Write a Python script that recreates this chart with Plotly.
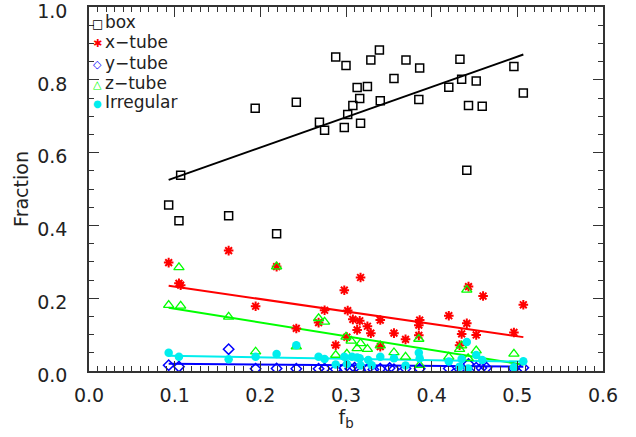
import plotly.graph_objects as go
import numpy as np

# ---------------- data ----------------
box_x = [0.093, 0.105, 0.107, 0.163, 0.194, 0.219, 0.242, 0.269, 0.275, 0.288, 0.298, 0.300,
         0.302, 0.308, 0.313, 0.316, 0.317, 0.325, 0.329, 0.339, 0.340, 0.356, 0.370, 0.385,
         0.386, 0.420, 0.433, 0.435, 0.441, 0.443, 0.452, 0.459, 0.496, 0.507]
box_y = [0.456, 0.413, 0.538, 0.427, 0.722, 0.377, 0.739, 0.684, 0.662, 0.863, 0.669, 0.840,
         0.705, 0.730, 0.779, 0.749, 0.681, 0.782, 0.855, 0.882, 0.743, 0.804, 0.855, 0.746,
         0.833, 0.780, 0.857, 0.802, 0.552, 0.730, 0.797, 0.728, 0.837, 0.764]

xt_x = [0.093, 0.105, 0.107, 0.163, 0.1945, 0.219, 0.242, 0.268, 0.275, 0.288, 0.298, 0.301,
        0.302, 0.308, 0.313, 0.316, 0.317, 0.325, 0.329, 0.340, 0.340, 0.356, 0.3695, 0.385,
        0.386, 0.385, 0.420, 0.4326, 0.435, 0.441, 0.443, 0.452, 0.460, 0.496, 0.507]
xt_y = [0.298, 0.241, 0.236, 0.331, 0.178, 0.287, 0.117, 0.133, 0.167, 0.071, 0.222, 0.093,
        0.166, 0.142, 0.113, 0.138, 0.257, 0.123, 0.104, 0.140, 0.067, 0.104, 0.087, 0.098,
        0.140, 0.126, 0.152, 0.071, 0.102, 0.131, 0.232, 0.099, 0.206, 0.106, 0.182]

yt_x = [0.093, 0.105, 0.163, 0.1945, 0.219, 0.242, 0.268, 0.275, 0.288, 0.298, 0.305, 0.310,
        0.316, 0.326, 0.332, 0.340, 0.351, 0.356, 0.3695, 0.386, 0.420, 0.4326, 0.443, 0.452,
        0.458, 0.464, 0.496, 0.507]
yt_y = [0.016, 0.012, 0.060, 0.006, 0.007, 0.006, 0.006, 0.007, 0.005, 0.008, 0.006, 0.009,
        0.005, 0.007, 0.004, 0.006, 0.008, 0.005, 0.007, 0.006, 0.007, 0.005, 0.019, 0.009,
        0.008, 0.009, 0.006, 0.009]

zt_x = [0.093, 0.105, 0.107, 0.163, 0.1945, 0.219, 0.242, 0.268, 0.275, 0.288, 0.300, 0.301,
        0.306, 0.313, 0.317, 0.325, 0.340, 0.356, 0.3695, 0.385, 0.386, 0.420, 0.4326, 0.435,
        0.441, 0.4426, 0.452, 0.496]
zt_y = [0.181, 0.285, 0.179, 0.149, 0.053, 0.287, 0.067, 0.145, 0.135, 0.044, 0.094, 0.047,
        0.083, 0.062, 0.076, 0.060, 0.070, 0.051, 0.039, 0.088, 0.016, 0.039, 0.060, 0.070,
        0.223, 0.035, 0.056, 0.047]

irr_x = [0.093, 0.105, 0.163, 0.1945, 0.219, 0.242, 0.268, 0.275, 0.288, 0.298, 0.301, 0.307,
         0.313, 0.316, 0.317, 0.326, 0.330, 0.340, 0.356, 0.3695, 0.385, 0.386, 0.420, 0.4326,
         0.435, 0.441, 0.4426, 0.452, 0.459, 0.496, 0.507]
irr_y = [0.050, 0.039, 0.032, 0.039, 0.047, 0.071, 0.039, 0.033, 0.018, 0.039, 0.019, 0.039,
         0.037, 0.035, 0.015, 0.030, 0.016, 0.039, 0.035, 0.015, 0.050, 0.035, 0.026, 0.012,
         0.033, 0.080, 0.007, 0.044, 0.030, 0.010, 0.027]

# linear fits (intercept, slope)
names = ["box", "x\u2212tube", "y\u2212tube", "z\u2212tube", "Irregular"]
fit_intercept = [0.448, 0.266, 0.022, 0.209, 0.0456]
fit_slope = [0.832, -0.341, -0.020, -0.378, -0.039]

xs = [box_x, xt_x, yt_x, zt_x, irr_x]
ys = [box_y, xt_y, yt_y, zt_y, irr_y]

# ---------------- styles ----------------
colors = ["#000000", "#FF0000", "#0000FF", "#00FF00", "#00EEEE"]
symbols = ["square-open", "asterisk-open", "diamond-open", "triangle-up-open", "circle"]
key_glyphs = ["\u25A1", "\u2731", "\u25C7", "\u25B3", "\u25CF"]
key_sizes = [12, 11, 11, 11, 10]
sizes = [8, 8, 8, 9, 8.5]
mlw = [1.5, 2.0, 1.5, 1.3, 0]

fig = go.Figure()
for i in range(5):
    xmin, xmax = min(box_x), max(box_x)
    lx = np.array([xmin, xmax])
    fig.add_trace(go.Scatter(
        x=lx, y=fit_intercept[i] + fit_slope[i] * lx, mode="lines",
        line=dict(color=colors[i], width=2), showlegend=False, hoverinfo="skip"))

for i in range(5):
    fig.add_trace(go.Scatter(
        x=xs[i], y=ys[i], mode="markers", name=names[i], showlegend=False,
        marker=dict(symbol=symbols[i], size=sizes[i], color=colors[i],
                    line=dict(color=colors[i], width=mlw[i]))))

# legend (IDL style: tight rows in the upper-left corner)
PL, PW, PT, PH = 89, 514, 7, 364
def px2paper(px, py):
    return (px - PL) / PW, 1 - (py - PT) / PH

row0, row_gap = 22.5, 20.0
for i in range(5):
    ry = row0 + i * row_gap
    kx, ky = px2paper(97, ry + 1.5)
    fig.add_annotation(x=kx, y=ky, xref="paper", yref="paper", text=key_glyphs[i],
                       showarrow=False, xanchor="center", yanchor="middle",
                       font=dict(family="DejaVu Sans", size=key_sizes[i], color=colors[i]))
    tx, ty = px2paper(104, ry)
    fig.add_annotation(x=tx, y=ty, xref="paper", yref="paper", text=names[i],
                       showarrow=False, xanchor="left", yanchor="middle", borderpad=0,
                       font=dict(family="DejaVu Sans", size=17, color="#222"))

axis_common = dict(
    ticks="inside", ticklen=10, tickwidth=1.2, tickcolor="#333",
    showline=True, linecolor="#333", linewidth=1.5, mirror="allticks",
    showgrid=False, zeroline=False, tickformat=".1f", automargin=False,
    tickfont=dict(family="DejaVu Sans", size=19, color="#222"),
)

fig.update_layout(
    width=636, height=437,
    margin=dict(l=89, r=33, t=7, b=66),
    paper_bgcolor="white", plot_bgcolor="white",
    font=dict(family="DejaVu Sans", size=19, color="#222"),
    xaxis=dict(range=[0, 0.6], dtick=0.1, **axis_common, ticklabelstandoff=6,
               minor=dict(ticks="inside", dtick=0.01, ticklen=5, tickcolor="#333", showgrid=False),
               title=dict(text="f<sub>b</sub>", font=dict(size=19), standoff=5)),
    yaxis=dict(range=[0, 1.0005], dtick=0.2, **axis_common, ticklabelstandoff=16,
               ticklabelshift=4, ticklabeloverflow="allow",
               minor=dict(ticks="inside", dtick=0.05, ticklen=5, tickcolor="#333", showgrid=False),
               title=dict(text="Fraction", font=dict(size=19), standoff=4)),
    showlegend=False,
)

fig.write_html("out.html")
